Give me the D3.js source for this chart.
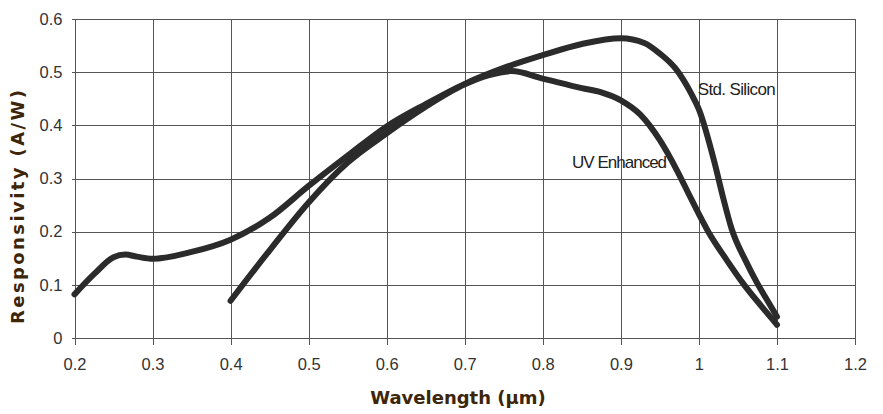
<!DOCTYPE html>
<html>
<head>
<meta charset="utf-8">
<script src="https://cdn.jsdelivr.net/npm/d3@7"></script>
<style>
  body { margin: 0; background: #fff; }
  .grid line { stroke: #555; stroke-width: 1; shape-rendering: crispEdges; }
  .grid path { display: none; }
  .grid text { font-family: "Liberation Sans", Arial, sans-serif; font-size: 16.5px; fill: #333; }
  .curve { fill: none; stroke: #2b2b2b; stroke-width: 6; stroke-linecap: round; stroke-linejoin: round; }
  .label { font-family: "Liberation Sans", Arial, sans-serif; font-size: 17px; fill: #222; }
  .title { font-family: "DejaVu Sans", Verdana, sans-serif; font-weight: bold; font-size: 18px; fill: #3d2509; }
</style>
</head>
<body>
<script>
//consts
const w = 883;
const h = 414;
const mLeft = 74.5, mRight = 855, mTop = 19, mBottom = 338;

//data
const xTicks = [0.2, 0.3, 0.4, 0.5, 0.6, 0.7, 0.8, 0.9, 1.0, 1.1, 1.2];
const yTicks = [0, 0.1, 0.2, 0.3, 0.4, 0.5, 0.6];

const stdWavelength = [0.2, 0.225, 0.25, 0.265, 0.28, 0.3, 0.35, 0.4, 0.45, 0.5, 0.55, 0.6, 0.65, 0.7, 0.75, 0.8, 0.85, 0.9, 0.93, 0.95, 0.97, 0.99, 1.0, 1.02, 1.03, 1.042, 1.06, 1.074, 1.09, 1.1];
const stdResp = [0.082, 0.12, 0.152, 0.157, 0.153, 0.149, 0.162, 0.185, 0.226, 0.286, 0.343, 0.398, 0.44, 0.478, 0.508, 0.532, 0.553, 0.564, 0.555, 0.535, 0.507, 0.46, 0.43, 0.33, 0.27, 0.205, 0.145, 0.105, 0.065, 0.04];

const uvWavelength = [0.4, 0.45, 0.5, 0.55, 0.6, 0.65, 0.7, 0.73, 0.76, 0.8, 0.85, 0.875, 0.9, 0.925, 0.95, 0.972, 0.99, 1.012, 1.035, 1.058, 1.08, 1.1];
const uvResp = [0.07, 0.165, 0.255, 0.33, 0.385, 0.435, 0.477, 0.494, 0.502, 0.488, 0.47, 0.462, 0.447, 0.42, 0.372, 0.315, 0.262, 0.2, 0.148, 0.1, 0.06, 0.025];

const seriesNames = ["Std. Silicon", "UV Enhanced"];

//scales
const xScale = d3.scaleLinear().domain([0.2, 1.2]).range([mLeft, mRight]);
const yScale = d3.scaleLinear().domain([0, 0.6]).range([mBottom, mTop]);

const svg = d3.select("body").append("svg")
    .attr("width", w)
    .attr("height", h);

//vertical grid + x labels
svg.append("g")
    .attr("class", "grid")
    .attr("transform", "translate(0," + mTop + ")")
    .call(d3.axisBottom(xScale)
        .tickValues(xTicks)
        .tickSize(mBottom - mTop + 7)
        .tickPadding(13)
        .tickFormat(d => String(+d.toFixed(1))));

//horizontal grid + y labels
svg.append("g")
    .attr("class", "grid")
    .attr("transform", "translate(" + mRight + ",0)")
    .call(d3.axisLeft(yScale)
        .tickValues(yTicks)
        .tickSize(mRight - mLeft + 3)
        .tickPadding(9)
        .tickFormat(d => String(+d.toFixed(1))));

//lines
const line = d3.line()
    .curve(d3.curveMonotoneX)
    .x(d => xScale(d[0]))
    .y(d => yScale(d[1]));

svg.append("path")
    .attr("class", "curve")
    .attr("d", line(d3.zip(stdWavelength, stdResp)));

svg.append("path")
    .attr("class", "curve")
    .attr("d", line(d3.zip(uvWavelength, uvResp)));

//curve labels
svg.append("text")
    .attr("class", "label")
    .attr("x", xScale(0.9985))
    .attr("y", yScale(0.457))
    .attr("textLength", 78)
    .text(seriesNames[0]);

svg.append("text")
    .attr("class", "label")
    .attr("x", xScale(0.8375))
    .attr("y", yScale(0.3195))
    .attr("textLength", 95)
    .text(seriesNames[1]);

//axis titles
svg.append("text")
    .attr("class", "title")
    .attr("text-anchor", "middle")
    .attr("x", 458)
    .attr("y", 404)
    .text("Wavelength (\u00b5m)");

svg.append("text")
    .attr("class", "title")
    .attr("text-anchor", "middle")
    .attr("transform", "translate(24,207) rotate(-90)")
    .attr("textLength", 234)
    .attr("lengthAdjust", "spacing")
    .text("Responsivity (A/W)");
</script>
</body>
</html>
